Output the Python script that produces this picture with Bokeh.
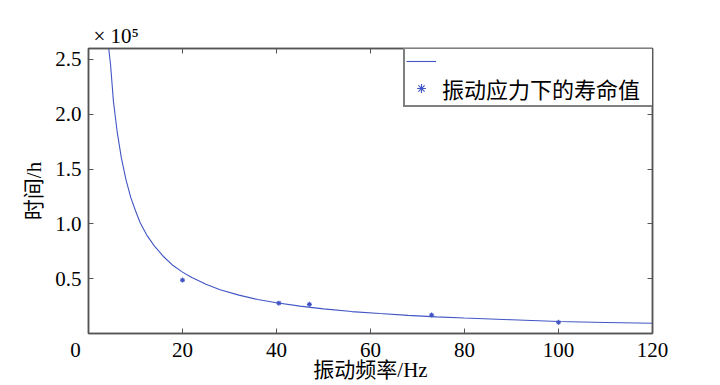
from bokeh.plotting import figure
from bokeh.models import (Range1d, FixedTicker, LinearAxis, Legend, LegendItem)
from bokeh.embed import file_html
from bokeh.resources import INLINE

# Fitted curve (life in 10^5 h vs vibration frequency in Hz)
curve_freq = [4.3, 4.7, 5.3, 6.1, 7.0, 8.0, 9.0, 10.0, 11.0, 12.5, 14.0, 16.0, 18.0,
              20.0, 22.0, 25.0, 28.0, 32.0, 36.0, 40.0, 45.0, 50.0, 56.0, 62.0,
              68.0, 74.0, 80.0, 90.0, 100.0, 110.0, 120.0]
curve_life = [2.60, 2.45, 2.12, 1.84, 1.60, 1.40, 1.24, 1.12, 1.01, 0.89, 0.80, 0.70, 0.62,
              0.56, 0.51, 0.45, 0.40, 0.35, 0.31, 0.28, 0.25, 0.225, 0.20, 0.182,
              0.165, 0.152, 0.141, 0.125, 0.109, 0.100, 0.093]

# Measured life under vibration stress
pt_freq = [20.0, 40.5, 47.0, 73.0, 100.0]
pt_life = [0.487, 0.277, 0.266, 0.168, 0.102]

x_ticks = [0, 20, 40, 60, 80, 100, 120]
y_ticks = [0.5, 1.0, 1.5, 2.0, 2.5]
y_tick_labels = ["0.5", "1.0", "1.5", "2.0", "2.5"]

legend_label = "振动应力下的寿命值"
x_label = "振动频率/Hz"
y_label = "时间/h"
exp_note = "× 10⁵"

SERIF = "Liberation Serif, Noto Sans CJK SC"
BLUE = "#4156c4"
AX = "#555555"

p = figure(frame_width=564, frame_height=285, output_backend="svg", toolbar_location=None,
           x_range=Range1d(0, 120), y_range=Range1d(0, 2.6),
           min_border_left=88, min_border_right=64, min_border_top=48, min_border_bottom=52)
p.xgrid.visible = False
p.ygrid.visible = False
p.outline_line_color = AX
p.outline_line_width = 1.5
p.background_fill_color = "white"

ln = p.line(curve_freq, curve_life, line_color=BLUE, line_width=1.1)
pts = p.scatter(pt_freq, pt_life, marker="asterisk", size=5, line_color=BLUE, line_width=1.1)

def style(ax):
    ax.axis_line_color = AX
    ax.axis_line_width = 1.5
    ax.major_tick_line_color = AX
    ax.major_tick_in = 5
    ax.major_tick_out = 0
    ax.minor_tick_line_color = None
    ax.major_label_text_font = SERIF
    ax.major_label_text_font_size = "21px"
    ax.major_label_text_color = "black"
    ax.axis_label_text_font = SERIF
    ax.axis_label_text_font_size = "21px"
    ax.axis_label_text_font_style = "normal"
    ax.axis_label_text_color = "black"

xa = p.xaxis[0]
ya = p.yaxis[0]
xa.ticker = FixedTicker(ticks=x_ticks)
ya.ticker = FixedTicker(ticks=y_ticks)
nb = "\u00a0"
xa.major_label_overrides = {0: "0" + nb * 5}
ya.major_label_overrides = {t: l for t, l in zip(y_ticks, y_tick_labels)}
style(xa)
style(ya)
xa.major_label_standoff = 4
ya.major_label_standoff = 7
xa.axis_label = x_label
ya.axis_label = y_label
xa.axis_label_standoff = -7
ya.axis_label_standoff = 6

top = LinearAxis(ticker=FixedTicker(ticks=x_ticks))
right = LinearAxis(ticker=FixedTicker(ticks=y_ticks))
for ax, tks in ((top, x_ticks), (right, y_ticks)):
    style(ax)
    ax.major_label_overrides = {t: "" for t in tks}
    ax.major_label_standoff = 0
    ax.major_label_text_font_size = "1px"
p.add_layout(top, "above")
p.add_layout(right, "right")

p.title.text = exp_note
p.title.align = "left"
p.title.offset = 5
p.title.standoff = 2
p.title.text_font = SERIF
p.title.text_font_size = "21px"
p.title.text_font_style = "normal"
p.title.text_color = "black"

legend = Legend(items=[LegendItem(label="", renderers=[ln]),
                       LegendItem(label=legend_label, renderers=[pts])],
                location=(315, 226), margin=0, padding=1, spacing=0,
                label_height=22, glyph_height=22, glyph_width=30, label_standoff=6,
                label_width=210,
                label_text_font=SERIF, label_text_font_size="22px",
                label_text_line_height=1.0,
                label_text_color="black",
                border_line_color="black", border_line_width=2,
                background_fill_color="white", background_fill_alpha=1)
p.add_layout(legend)

open("out.html", "w").write(file_html(p, INLINE))
